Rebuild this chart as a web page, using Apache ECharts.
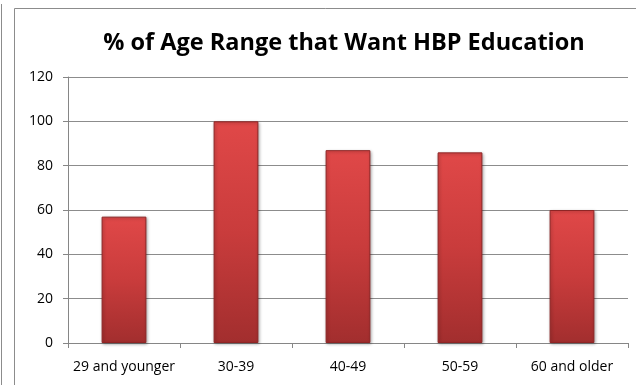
<!DOCTYPE html>
<html>
<head>
<meta charset="utf-8">
<script src="https://cdn.jsdelivr.net/npm/echarts@6/dist/echarts.min.js"></script>
<style>
html,body{margin:0;padding:0;background:#fff;}
#chart{width:636px;height:385px;}
</style>
</head>
<body>
<div id="chart"></div>
<script>
var categories = ['29 and younger', '30-39', '40-49', '50-59', '60 and older'];
var values = [57, 100, 87, 86, 60];
var titleText = '% of Age Range that Want HBP Education';

var myChart = echarts.init(document.getElementById('chart'));

var option = {
	animation: false,
	backgroundColor: '#fff',
	title: {
		text: titleText,
		left: 339,
		top: 26,
		textAlign: 'center',
		textStyle: {
			fontFamily: 'Open Sans',
			fontWeight: 'bold',
			fontSize: 23.5,
			color: '#000'
		}
	},
	graphic: [{
		type: 'rect',
		shape: { x: 14.5, y: 8.5, width: 640, height: 400 },
		style: { fill: 'none', stroke: '#8c8c8c', lineWidth: 1 },
		silent: true
	}, {
		type: 'line',
		shape: { x1: 1.5, y1: 4, x2: 1.5, y2: 385 },
		style: { stroke: '#8c8c8c', lineWidth: 1 },
		silent: true
	}],
	grid: {
		left: 68,
		right: 8,
		top: 77,
		bottom: 42
	},
	xAxis: {
		type: 'category',
		data: categories,
		axisLine: { lineStyle: { color: '#868686', width: 1 } },
		axisTick: { show: true, alignWithLabel: false, length: 5, lineStyle: { color: '#868686' } },
		axisLabel: {
			interval: 0,
			margin: 17,
			color: '#000',
			fontFamily: 'Open Sans',
			fontSize: 14
		}
	},
	yAxis: {
		type: 'value',
		min: 0,
		max: 120,
		interval: 20,
		axisLine: { show: true, lineStyle: { color: '#868686', width: 1 } },
		axisTick: { show: true, length: 5, lineStyle: { color: '#868686' } },
		splitLine: { lineStyle: { color: '#8c8c8c', width: 1 } },
		axisLabel: {
			margin: 15,
			color: '#000',
			fontFamily: 'Open Sans',
			fontSize: 14
		}
	},
	series: [{
		type: 'bar',
		data: values,
		barWidth: '40%',
		itemStyle: {
			color: new echarts.graphic.LinearGradient(0, 0, 0, 1, [
				{ offset: 0, color: '#e04848' },
				{ offset: 0.5, color: '#c93c3c' },
				{ offset: 1, color: '#a22e2e' }
			]),
			borderColor: '#8e2525',
			borderWidth: 1,
			shadowColor: 'rgba(0,0,0,0.3)',
			shadowBlur: 3,
			shadowOffsetX: 1,
			shadowOffsetY: 1
		}
	}]
};
myChart.setOption(option);
</script>
</body>
</html>
